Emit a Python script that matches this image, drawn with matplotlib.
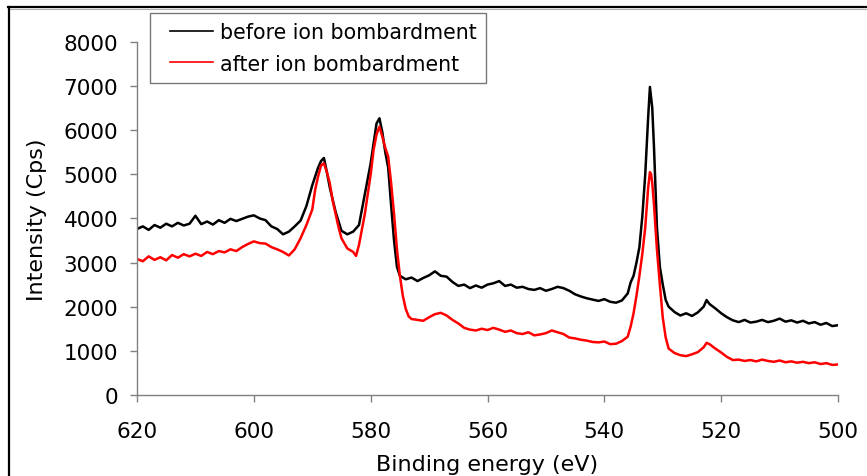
import numpy as np
import matplotlib
matplotlib.use("Agg")
import matplotlib.pyplot as plt
from matplotlib.lines import Line2D
from matplotlib.legend_handler import HandlerLine2D

# binding energy (eV) and counts
energy_before = [620, 619, 618, 617, 616, 615, 614, 613, 612, 611, 610, 609, 608, 607, 606, 605, 604, 603, 602, 601,
                 600, 599, 598, 597, 596, 595, 594, 593, 592, 591, 590, 589, 588.5, 588, 587.5, 587, 586, 585, 584, 583,
                 582, 581.5, 581, 580.5, 580, 579.5, 579, 578.5, 578, 577.5, 577, 576.5, 576, 575.5, 575, 574, 573, 572,
                 571, 570, 569, 568, 567, 566, 565, 564, 563, 562, 561, 560, 559, 558, 557, 556, 555, 554, 553, 552,
                 551, 550, 549, 548, 547, 546, 545, 544, 543, 542, 541, 540, 539, 538, 537, 536, 535.5, 535, 534.5,
                 534, 533.5, 533, 532.5, 532.2, 532, 531.8, 531.5, 531, 530.5, 530, 529.5, 529, 528, 527, 526, 525,
                 524, 523, 522.5, 522, 521, 520, 519, 518, 517, 516, 515, 514, 513, 512, 511, 510, 509, 508, 507, 506,
                 505, 504, 503, 502, 501, 500]
before = [3760, 3820, 3740, 3850, 3790, 3880, 3820, 3900, 3840, 3880, 4060, 3870, 3930, 3860, 3960, 3900, 3990, 3940,
          3990, 4040, 4070, 4000, 3960, 3820, 3760, 3640, 3700, 3820, 3950, 4280, 4750, 5150, 5300, 5370, 5050, 4700,
          4150, 3720, 3640, 3700, 3850, 4200, 4550, 4900, 5250, 5700, 6150, 6270, 5950, 5500, 5150, 4300, 3500, 2900,
          2700, 2620, 2660, 2580, 2650, 2710, 2800, 2700, 2680, 2560, 2470, 2500, 2420, 2480, 2430, 2500, 2530, 2580,
          2470, 2500, 2430, 2450, 2400, 2380, 2420, 2360, 2400, 2450, 2420, 2360, 2280, 2230, 2190, 2160, 2130, 2170,
          2110, 2090, 2140, 2300, 2550, 2700, 3000, 3350, 4050, 5000, 6300, 6980, 6750, 6500, 5600, 3800, 2900, 2500,
          2150, 2000, 1880, 1800, 1850, 1790, 1870, 2000, 2150, 2060, 1960, 1850, 1760, 1690, 1650, 1700, 1640, 1660,
          1700, 1650, 1680, 1730, 1660, 1690, 1640, 1680, 1620, 1650, 1590, 1630, 1560, 1580]

energy_after = [620, 619, 618, 617, 616, 615, 614, 613, 612, 611, 610, 609, 608, 607, 606, 605, 604, 603, 602, 601,
                600, 599, 598, 597, 596, 595, 594, 593, 592, 591, 590, 589.5, 589, 588.5, 588, 587.5, 587, 586.5, 586,
                585.5, 585, 584, 583, 582.5, 582, 581.5, 581, 580.5, 580, 579.5, 579, 578.5, 578, 577.5, 577, 576.5,
                576, 575.5, 575, 574.5, 574, 573.5, 573, 572, 571, 570, 569, 568, 567, 566, 565, 564, 563, 562, 561,
                560, 559, 558, 557, 556, 555, 554, 553, 552, 551, 550, 549, 548, 547, 546, 545, 544, 543, 542, 541,
                540, 539, 538, 537, 536, 535.5, 535, 534.5, 534, 533.5, 533, 532.5, 532.2, 532, 531.8, 531.5, 531,
                530.5, 530, 529.5, 529, 528, 527, 526, 525, 524, 523, 522.5, 522, 521, 520, 519, 518, 517, 516, 515,
                514, 513, 512, 511, 510, 509, 508, 507, 506, 505, 504, 503, 502, 501, 500]
after = [3080, 3030, 3140, 3060, 3120, 3050, 3170, 3110, 3190, 3140, 3200, 3150, 3240, 3190, 3260, 3230, 3300, 3260,
         3350, 3420, 3480, 3440, 3430, 3350, 3300, 3240, 3160, 3300, 3550, 3850, 4200, 4650, 4950, 5200, 5250, 5050,
         4800, 4400, 4100, 3800, 3550, 3320, 3240, 3150, 3400, 3750, 4100, 4550, 5000, 5550, 5900, 6080, 5850, 5600,
         5400, 4800, 4100, 3300, 2700, 2250, 1950, 1780, 1720, 1700, 1680, 1760, 1830, 1860, 1800, 1700, 1620, 1520,
         1480, 1460, 1500, 1470, 1520, 1480, 1430, 1460, 1400, 1380, 1420, 1350, 1370, 1400, 1460, 1420, 1380, 1300,
         1280, 1250, 1230, 1200, 1190, 1210, 1150, 1160, 1220, 1320, 1550, 1850, 2250, 2700, 3200, 3800, 4700, 5050,
         5000, 4800, 4300, 3300, 2500, 1750, 1300, 1050, 950, 900, 880, 920, 970, 1080, 1180, 1150, 1050, 960, 860,
         790, 800, 770, 790, 760, 800, 770, 750, 780, 740, 760, 730, 750, 720, 740, 700, 720, 680, 690]

x_ticks = [620, 600, 580, 560, 540, 520, 500]
y_ticks = [0, 1000, 2000, 3000, 4000, 5000, 6000, 7000, 8000]


class ShortLine(HandlerLine2D):
    # legend line drawn only over the right part of the handle box
    def get_xdata(self, legend, xdescent, ydescent, width, height, fontsize):
        return [-xdescent + 0.2 * width, -xdescent + width], [-xdescent + 0.6 * width]


fig = plt.figure(figsize=(8.67, 4.77), dpi=100)
ax = fig.add_axes([0.158, 0.170, 0.8086, 0.740])

l1, = ax.plot(energy_before, before, color='black', lw=1.8, label='before ion bombardment')
l2, = ax.plot(energy_after, after, color='red', lw=1.8, label='after ion bombardment')

ax.set_xlim(620, 500)
ax.set_ylim(0, 8000)
ax.set_xticks(x_ticks)
ax.set_yticks(y_ticks)

for s in ['top', 'right']:
    ax.spines[s].set_visible(False)
for s in ['left', 'bottom']:
    ax.spines[s].set_color('#808080')
    ax.spines[s].set_linewidth(1.0)
ax.tick_params(axis='both', direction='out', length=5, width=1, color='#808080', labelsize=15.5)
ax.tick_params(axis='y', pad=8.5)
ax.tick_params(axis='x', pad=14)

ax.set_xlabel('Binding energy (eV)', fontsize=16, labelpad=9)
ax.set_ylabel('Intensity (Cps)', fontsize=16, labelpad=12)

leg = ax.legend(loc='upper left', bbox_to_anchor=(150 / 867, 1 - 14 / 477), bbox_transform=fig.transFigure,
                fontsize=14.8, frameon=True, fancybox=False, handlelength=2.6, handletextpad=0.35,
                labelspacing=0.55, borderpad=0.45, borderaxespad=0,
                handler_map={l1: ShortLine(), l2: ShortLine()})
leg.get_frame().set_edgecolor('#555555')
leg.get_frame().set_linewidth(1.0)
for h in leg.legend_handles:
    h.set_linewidth(1.2)

# outer chart frame (top and left only)
fig.add_artist(Line2D([8 / 867, 1], [1 - 8 / 477, 1 - 8 / 477], transform=fig.transFigure, color='black', lw=1.6))
fig.add_artist(Line2D([8 / 867, 1], [1 - 10 / 477, 1 - 10 / 477], transform=fig.transFigure, color='#b0b0b0', lw=0.8))
fig.add_artist(Line2D([9 / 867, 9 / 867], [0, 1 - 8 / 477], transform=fig.transFigure, color='black', lw=1.6))

fig.savefig('out.png', dpi=100)
